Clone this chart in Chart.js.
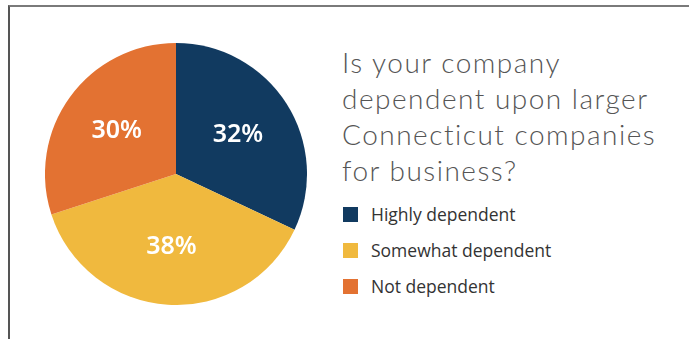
<!DOCTYPE html>
<html>
<head>
<meta charset="utf-8">
<script src="https://cdn.jsdelivr.net/npm/chart.js@4"></script>
<style>
  html, body { margin: 0; padding: 0; background: #fff; }
  body { width: 689px; height: 339px; position: relative; overflow: hidden; }
  .frame {
    position: absolute; left: 8px; top: 5px; right: -4px; bottom: -4px;
    border-top: 2px solid #7a7a7a; border-left: 2px solid #555;
  }
  #pieWrap { position: absolute; left: 45px; top: 43px; width: 262px; height: 262px; }
  #question {
    position: absolute; left: 342px; top: 44px; margin: 0;
    font-family: Lato, sans-serif; font-weight: 300; font-size: 28px;
    line-height: 36px; color: #555; letter-spacing: 1.5px;
  }
  #legend { position: absolute; left: 343px; top: 204px; margin: 0; padding: 0; list-style: none; }
  #legend li {
    height: 36px; display: flex; align-items: flex-start;
    font-family: "Open Sans", sans-serif; font-size: 17.5px; color: #333; line-height: 20px;
  }
  #legend .box { width: 15px; height: 15px; margin-right: 13px; margin-top: 3px; }
</style>
</head>
<body>
<div class="frame"></div>
<div id="pieWrap"><canvas id="pie"></canvas></div>
<p id="question">Is your company<br>dependent upon larger<br>Connecticut companies<br>for business?</p>
<ul id="legend"></ul>
<script>
const labels = ['Highly dependent', 'Somewhat dependent', 'Not dependent'];
const shares = [32, 38, 30];
const colors = ['#113a60', '#f0b93e', '#e37232'];

// white percentage text inside each slice
const sliceLabels = {
    id: 'sliceLabels',
    afterDatasetsDraw(chart) {
        const ctx = chart.ctx;
        const meta = chart.getDatasetMeta(0);
        ctx.save();
        ctx.fillStyle = '#fff';
        ctx.font = '600 25px "Noto Sans", sans-serif';
        ctx.textAlign = 'center';
        ctx.textBaseline = 'middle';
        meta.data.forEach((arc, i) => {
            const mid = (arc.startAngle + arc.endAngle) / 2;
            const r = arc.outerRadius * 0.56;
            const x = arc.x + Math.cos(mid) * r;
            const y = arc.y + Math.sin(mid) * r;
            ctx.fillText(shares[i] + '%', x, y);
        });
        ctx.restore();
    }
};

new Chart(document.getElementById('pie'), {
    type: 'pie',
    data: {
        labels: labels,
        datasets: [{ data: shares, backgroundColor: colors, borderWidth: 0 }]
    },
    options: {
        responsive: true,
        maintainAspectRatio: false,
        animation: false,
        layout: { padding: 0 },
        plugins: { legend: { display: false }, tooltip: { enabled: false } }
    },
    plugins: [sliceLabels]
});

// legend list on the right
const legendEl = document.getElementById('legend');
labels.forEach((name, i) => {
    const li = document.createElement('li');
    li.innerHTML = `<span class="box" style="background:${colors[i]}"></span>${name}`;
    legendEl.appendChild(li);
});
</script>
</body>
</html>
